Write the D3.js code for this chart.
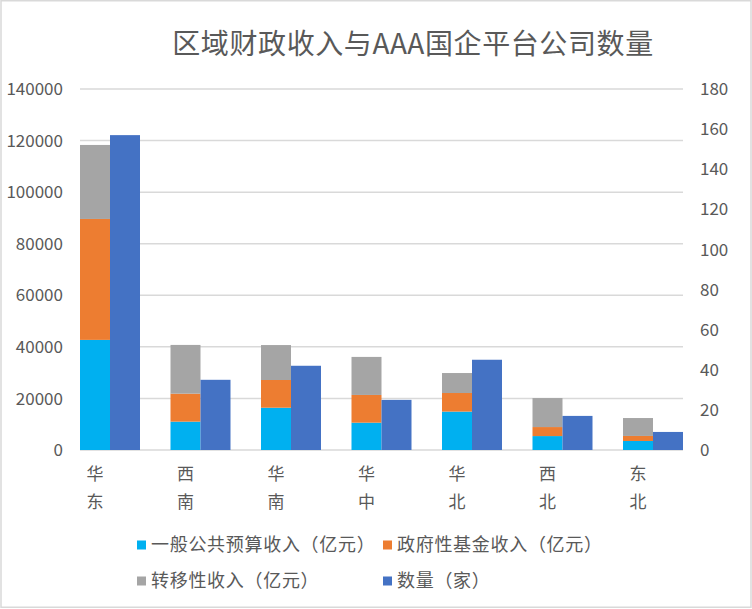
<!DOCTYPE html>
<html>
<head>
<meta charset="utf-8">
<script src="https://cdn.jsdelivr.net/npm/d3@7"></script>
<style>
  html, body { margin: 0; padding: 0; background: #fff; }
  svg { display: block; }
  text { font-family: "Noto Sans CJK SC", "Noto Sans", sans-serif; fill: #595959; }
</style>
</head>
<body>
<svg id="chart" width="752" height="609"></svg>
<script>
const categories = ["华东", "西南", "华南", "华中", "华北", "西北", "东北"];
const generalBudget = [42700, 11000, 16400, 10600, 14900, 5400, 3500];
const govFund = [46900, 10850, 10750, 10750, 7200, 3500, 1950];
const transfer = [28700, 18900, 13550, 14750, 7750, 11250, 6950];
const counts = [157, 35, 42, 25, 45, 17, 9];
const leftTicks = [0, 20000, 40000, 60000, 80000, 100000, 120000, 140000];
const rightTicks = [0, 20, 40, 60, 80, 100, 120, 140, 160, 180];
const seriesNames = ["一般公共预算收入（亿元）", "政府性基金收入（亿元）", "转移性收入（亿元）", "数量（家）"];
const colors = ["#00B0F0", "#ED7D31", "#A5A5A5", "#4472C4"];
const title = "区域财政收入与AAA国企平台公司数量";

const svg = d3.select("#chart");
const plot = { left: 80, right: 683, top: 89, bottom: 450 };

// border
svg.append("rect").attr("x", 1).attr("y", 0.75).attr("width", 750).attr("height", 606.5)
  .attr("fill", "#fff").attr("stroke", "#d9d9d9").attr("stroke-width", 1.5);

const x = d3.scaleBand().domain(categories).range([plot.left, plot.right])
  .paddingInner(0.337).paddingOuter(0);
const yL = d3.scaleLinear().domain([0, 140000]).range([plot.bottom, plot.top]);
const yR = d3.scaleLinear().domain([0, 180]).range([plot.bottom, plot.top]);
const bw = x.bandwidth() / 2;

// grid
svg.append("g").selectAll("line").data(leftTicks).join("line")
  .attr("x1", plot.left).attr("x2", plot.right)
  .attr("y1", d => yL(d)).attr("y2", d => yL(d))
  .attr("stroke", "#d9d9d9").attr("stroke-width", 1.5);

// stacked data
const rows = categories.map((c, i) => ({ cat: c, a: generalBudget[i], b: govFund[i], c: transfer[i] }));
const stack = d3.stack().keys(["a", "b", "c"])(rows);
svg.append("g").selectAll("g").data(stack).join("g")
  .attr("fill", (d, i) => colors[i])
  .selectAll("rect").data(d => d).join("rect")
  .attr("x", d => x(d.data.cat))
  .attr("width", bw)
  .attr("y", d => yL(d[1]))
  .attr("height", d => yL(d[0]) - yL(d[1]));

// counts
svg.append("g").selectAll("rect").data(categories).join("rect")
  .attr("fill", colors[3])
  .attr("x", d => x(d) + bw)
  .attr("width", bw)
  .attr("y", (d, i) => yR(counts[i]))
  .attr("height", (d, i) => yR(0) - yR(counts[i]));

// left ticks
svg.append("g").selectAll("text").data(leftTicks).join("text")
  .attr("x", 63).attr("y", d => yL(d)).attr("dy", "0.36em")
  .attr("text-anchor", "end").attr("font-size", 17).text(d => d);

// right ticks
svg.append("g").selectAll("text").data(rightTicks).join("text")
  .attr("x", 700).attr("y", d => yR(d)).attr("dy", "0.36em")
  .attr("text-anchor", "start").attr("font-size", 17).text(d => d);

// category labels (vertical, one char per line)
const cl = svg.append("g").selectAll("text").data(categories).join("text")
  .attr("text-anchor", "middle").attr("font-size", 17);
cl.each(function(d) {
  const t = d3.select(this);
  const cx = x(d) + bw / 2;
  Array.from(d).forEach((ch, k) => {
    t.append("tspan").attr("x", cx).attr("y", 480 + k * 28).text(ch);
  });
});

// title
svg.append("text").attr("x", 413).attr("y", 54).attr("text-anchor", "middle")
  .attr("font-size", 28).attr("letter-spacing", 0.6).text(title);

// legend
const legendPos = [
  { sx: 137, tx: 151, y: 545 },
  { sx: 383, tx: 397, y: 545 },
  { sx: 137, tx: 151, y: 581 },
  { sx: 383, tx: 397, y: 581 }
];
const lg = svg.append("g").selectAll("g").data(seriesNames).join("g");
lg.append("rect").attr("x", (d, i) => legendPos[i].sx).attr("y", (d, i) => legendPos[i].y - 4.5)
  .attr("width", 9).attr("height", 9).attr("fill", (d, i) => colors[i]);
lg.append("text").attr("x", (d, i) => legendPos[i].tx).attr("y", (d, i) => legendPos[i].y)
  .attr("dy", "0.36em").attr("font-size", 18).attr("letter-spacing", 0.7).text(d => d);
</script>
</body>
</html>
